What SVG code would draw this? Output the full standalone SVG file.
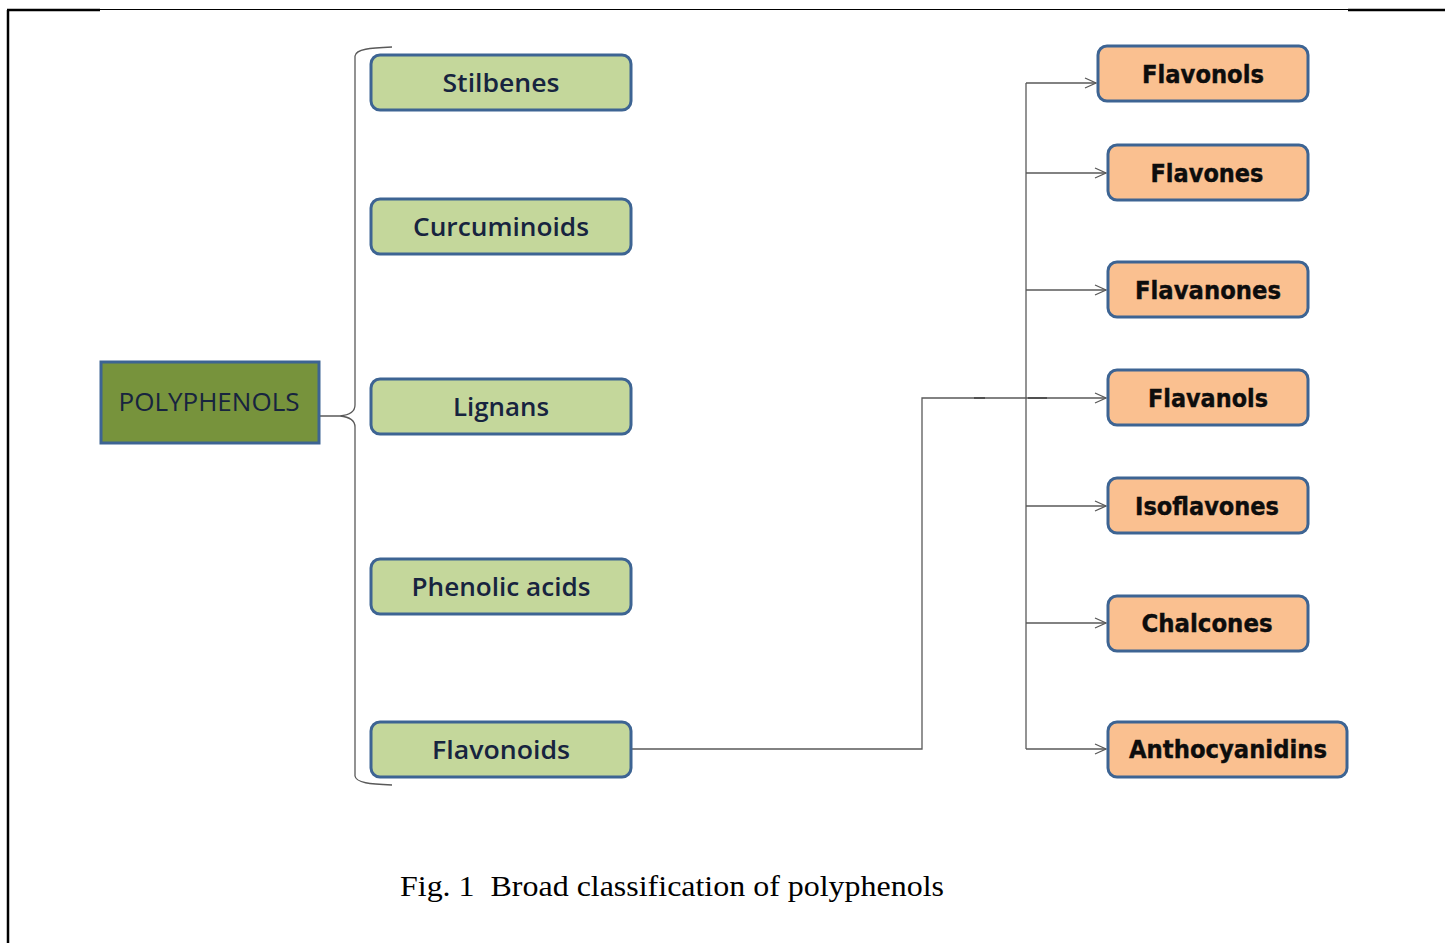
<svg xmlns="http://www.w3.org/2000/svg" width="1445" height="943" viewBox="0 0 1445 943">
<style>
.g rect{fill:#c4d79b;stroke:#3d6493;stroke-width:3}
.o rect{fill:#fac090;stroke:#3d6493;stroke-width:3}
.g text{font-family:"Open Sans","Liberation Sans",sans-serif;font-weight:600;font-size:26px;fill:#17243f;text-anchor:middle}
.o text{font-family:"DejaVu Sans","Liberation Sans",sans-serif;font-weight:bold;font-size:24px;fill:#0d0d0d;text-anchor:middle;stroke:#0d0d0d;stroke-width:0.4}
.c{fill:none;stroke:#595959;stroke-width:1.3}
</style>
<defs>
<marker id="ah" markerWidth="14" markerHeight="12" refX="12" refY="6" orient="auto" markerUnits="userSpaceOnUse">
<path d="M1,1 L12,6 L1,11" fill="none" stroke="#595959" stroke-width="1.3"/>
</marker>
</defs>
<rect width="1445" height="943" fill="#fff"/>
<g id="frame" fill="none" stroke="#000">
<line x1="8" y1="10" x2="8" y2="943" stroke-width="2.5"/>
<line x1="7" y1="10" x2="100" y2="10" stroke-width="2.5"/>
<line x1="100" y1="9.5" x2="1348" y2="9.5" stroke-width="1.2"/>
<line x1="1348" y1="10" x2="1445" y2="10" stroke-width="2.5"/>
</g>
<g id="connectors">
<path class="c" d="M392,47 C370,48 356,49 355,56 L355,405 C355,412 350,415 340,416 L320,416 M340,416 C350,417 355,420 355,427 L355,776 C356,783 370,784 392,785"/>
<path class="c" d="M632,749 L922,749 L922,398 L1106,398" marker-end="url(#ah)"/>
<path class="c" d="M1026,83 L1026,749"/>
<path class="c" d="M1026,83 L1096,83" marker-end="url(#ah)"/>
<path class="c" d="M1026,173 L1106,173" marker-end="url(#ah)"/>
<path class="c" d="M1026,290 L1106,290" marker-end="url(#ah)"/>
<path class="c" d="M1026,506 L1106,506" marker-end="url(#ah)"/>
<path class="c" d="M1026,623 L1106,623" marker-end="url(#ah)"/>
<path class="c" d="M1026,749 L1106,749" marker-end="url(#ah)"/>
<path d="M974,398 H985 M1028,398 H1047" stroke="#404040" stroke-width="1.6"/>
</g>
<g id="polyphenols">
<rect x="101" y="362" width="218" height="81" fill="#77933c" stroke="#3d6493" stroke-width="3"/>
<text x="209" y="411" font-family="Open Sans,'Liberation Sans',sans-serif" font-size="25" fill="#17243f" text-anchor="middle" textLength="181" lengthAdjust="spacingAndGlyphs">POLYPHENOLS</text>
</g>
<g id="stilbenes" class="g"><rect x="371" y="55" width="260" height="55" rx="9"/><text x="501" y="92" textLength="117" lengthAdjust="spacingAndGlyphs">Stilbenes</text></g>
<g id="curcuminoids" class="g"><rect x="371" y="199" width="260" height="55" rx="9"/><text x="501" y="236" textLength="176" lengthAdjust="spacingAndGlyphs">Curcuminoids</text></g>
<g id="lignans" class="g"><rect x="371" y="379" width="260" height="55" rx="9"/><text x="501" y="416" textLength="96" lengthAdjust="spacingAndGlyphs">Lignans</text></g>
<g id="phenolic-acids" class="g"><rect x="371" y="559" width="260" height="55" rx="9"/><text x="501" y="596" textLength="179" lengthAdjust="spacingAndGlyphs">Phenolic acids</text></g>
<g id="flavonoids" class="g"><rect x="371" y="722" width="260" height="55" rx="9"/><text x="501" y="759" textLength="138" lengthAdjust="spacingAndGlyphs">Flavonoids</text></g>
<g id="flavonols" class="o"><rect x="1098" y="46" width="210" height="55" rx="9"/><text x="1203" y="83" textLength="122" lengthAdjust="spacingAndGlyphs">Flavonols</text></g>
<g id="flavones" class="o"><rect x="1108" y="145" width="200" height="55" rx="9"/><text x="1207" y="182" textLength="113" lengthAdjust="spacingAndGlyphs">Flavones</text></g>
<g id="flavanones" class="o"><rect x="1108" y="262" width="200" height="55" rx="9"/><text x="1208" y="299" textLength="146" lengthAdjust="spacingAndGlyphs">Flavanones</text></g>
<g id="flavanols" class="o"><rect x="1108" y="370" width="200" height="55" rx="9"/><text x="1208" y="407" textLength="120" lengthAdjust="spacingAndGlyphs">Flavanols</text></g>
<g id="isoflavones" class="o"><rect x="1108" y="478" width="200" height="55" rx="9"/><text x="1207" y="515" textLength="144" lengthAdjust="spacingAndGlyphs">Isoflavones</text></g>
<g id="chalcones" class="o"><rect x="1108" y="596" width="200" height="55" rx="9"/><text x="1207" y="632" textLength="131" lengthAdjust="spacingAndGlyphs">Chalcones</text></g>
<g id="anthocyanidins" class="o"><rect x="1108" y="722" width="239" height="55" rx="9"/><text x="1228" y="758" textLength="198" lengthAdjust="spacingAndGlyphs">Anthocyanidins</text></g>
<text id="caption" x="400" y="896" font-family="'Liberation Serif',serif" font-size="30" fill="#000" textLength="544" lengthAdjust="spacingAndGlyphs" xml:space="preserve">Fig. 1  Broad classification of polyphenols</text>
</svg>
